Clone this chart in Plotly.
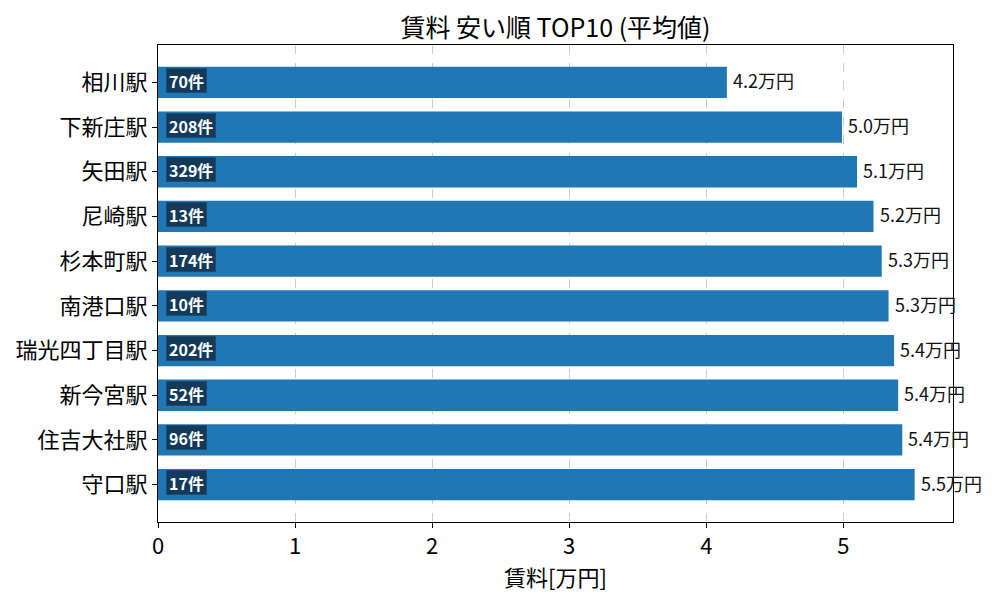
import plotly.graph_objects as go

# 賃料 安い順 TOP10 (平均値)
stations = ["相川駅", "下新庄駅", "矢田駅", "尼崎駅", "杉本町駅",
            "南港口駅", "瑞光四丁目駅", "新今宮駅", "住吉大社駅", "守口駅"]
rent_avg = [4.15, 4.99, 5.10, 5.22, 5.28, 5.33, 5.37, 5.40, 5.43, 5.52]
counts = [70, 208, 329, 13, 174, 10, 202, 52, 96, 17]

FONT = "Noto Sans CJK JP"
pos = list(range(len(stations)))

fig = go.Figure()
fig.add_trace(go.Bar(
    x=rent_avg, y=pos, orientation="h", width=0.7,
    marker=dict(color="#1f77b4", line=dict(width=0)),
    hoverinfo="skip",
))

# 件数バッジと値ラベル
for i, (v, c) in enumerate(zip(rent_avg, counts)):
    fig.add_annotation(
        x=0, y=i, xref="x", yref="y", text=f"<b>{c}件</b>",
        showarrow=False, xanchor="left", xshift=8, yshift=2,
        font=dict(family=FONT, size=16, color="white"),
        bgcolor="#133a5a", bordercolor="#1e4a6e", borderwidth=1, borderpad=2,
        height=19,
    )
    fig.add_annotation(
        x=v, y=i, xref="x", yref="y", text=f"{v:.1f}万円",
        showarrow=False, xanchor="left", xshift=4, yshift=2,
        font=dict(family=FONT, size=18, color="#111"),
    )

fig.update_layout(
    width=1000, height=600,
    margin=dict(l=150, r=55, t=37, b=86, autoexpand=False),
    paper_bgcolor="white", plot_bgcolor="white",
    showlegend=False,
    font=dict(family=FONT, color="black"),
    title=dict(text="賃料 安い順 TOP10 (平均値)", x=0.5, xanchor="center",
               xref="paper", y=0.966, yanchor="middle",
               font=dict(size=25, family=FONT)),
)
fig.update_xaxes(
    range=[0, 5.8], tickvals=[0, 1, 2, 3, 4, 5],
    ticks="outside", ticklen=5, tickcolor="black",
    tickfont=dict(size=22, family=FONT),
    title=dict(text="賃料[万円]", font=dict(size=22, family=FONT), standoff=6),
    showgrid=True, gridcolor="#cccccc", griddash="dash", gridwidth=1,
    showline=True, linecolor="black", linewidth=1, mirror=True, zeroline=False,
    automargin=False,
)
fig.update_yaxes(
    range=[9.835, -0.835], tickvals=pos, ticktext=stations,
    ticks="outside", ticklen=5, tickcolor="black",
    tickfont=dict(size=22, family=FONT),
    showgrid=False, showline=True, linecolor="black", linewidth=1,
    mirror=True, zeroline=False, automargin=False,
)

fig.write_html("out.html")
